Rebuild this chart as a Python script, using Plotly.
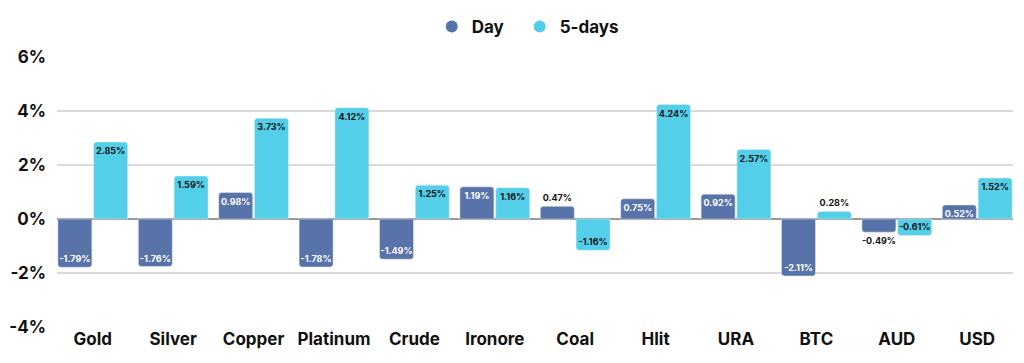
import plotly.graph_objects as go

categories = ["Gold", "Silver", "Copper", "Platinum", "Crude", "Ironore", "Coal", "Hlit", "URA", "BTC", "AUD", "USD"]
day_values = [-1.79, -1.76, 0.98, -1.78, -1.49, 1.19, 0.47, 0.75, 0.92, -2.11, -0.49, 0.52]
five_day_values = [2.85, 1.59, 3.73, 4.12, 1.25, 1.16, -1.16, 4.24, 2.57, 0.28, -0.61, 1.52]
y_ticks = [-4, -2, 0, 2, 4, 6]
y_tick_labels = ["-4%", "-2%", "0%", "2%", "4%", "6%"]

DAY_COLOR = "#5873A9"
FIVE_COLOR = "#53CFEA"
DARK = "#111111"
FONT = "Inter"

def positions(vals, thresh=0.5):
    return ["outside" if abs(v) < thresh else "inside" for v in vals]

day_pos = positions(day_values)
five_pos = positions(five_day_values)
day_text_colors = ["white" if p == "inside" else DARK for p in day_pos]
five_text_colors = [DARK for p in five_pos]

fig = go.Figure()
fig.add_trace(go.Bar(
    x=categories, y=day_values, name="Day", marker_color=DAY_COLOR,
    text=[f"{v:.2f}%" for v in day_values], textposition=day_pos,
    insidetextanchor="end", textangle=0, constraintext="none",
    textfont=dict(family=FONT, size=9, color=day_text_colors, weight=700),
    showlegend=False, cliponaxis=False,
))
fig.add_trace(go.Bar(
    x=categories, y=five_day_values, name="5-days", marker_color=FIVE_COLOR,
    text=[f"{v:.2f}%" for v in five_day_values], textposition=five_pos,
    insidetextanchor="end", textangle=0, constraintext="none",
    textfont=dict(family=FONT, size=9, color=five_text_colors, weight=700),
    showlegend=False, cliponaxis=False,
))
# legend entries with circle markers (one legend each for precise placement)
fig.add_trace(go.Scatter(x=[None], y=[None], mode="markers", name="Day", legend="legend",
                         marker=dict(color=DAY_COLOR, size=16, symbol="circle")))
fig.add_trace(go.Scatter(x=[None], y=[None], mode="markers", name="5-days", legend="legend2",
                         marker=dict(color=FIVE_COLOR, size=16, symbol="circle")))

legend_common = dict(orientation="h", xanchor="left",
                     y=1 - 19 / 355, yanchor="middle", yref="container",
                     font=dict(family=FONT, size=17, color=DARK, weight=700),
                     itemsizing="constant", itemwidth=30, bgcolor="rgba(0,0,0,0)")

fig.update_layout(
    width=1016, height=355,
    margin=dict(l=49, r=11, t=49, b=36, autoexpand=False),
    paper_bgcolor="white", plot_bgcolor="white",
    barmode="group", bargap=0.11, bargroupgap=0.05, barcornerradius=3,
    font=dict(family=FONT, color=DARK),
    legend=dict(x=0.392, **legend_common),
    legend2=dict(x=0.484, **legend_common),
    xaxis=dict(showgrid=False, showline=False, ticks="", automargin=False,
               range=[-0.445, len(categories) - 1 + 0.445],
               tickfont=dict(family=FONT, size=17, color=DARK, weight=700)),
    yaxis=dict(range=[-4, 6], tickvals=y_ticks, ticktext=y_tick_labels,
               automargin=False,
               showgrid=True, gridcolor="#DADADA", gridwidth=2,
               zeroline=True, zerolinecolor="#999999", zerolinewidth=2,
               showline=False, ticks="", ticklabelstandoff=10,
               tickfont=dict(family=FONT, size=17, color=DARK, weight=700)),
)

fig.write_html("out.html")
